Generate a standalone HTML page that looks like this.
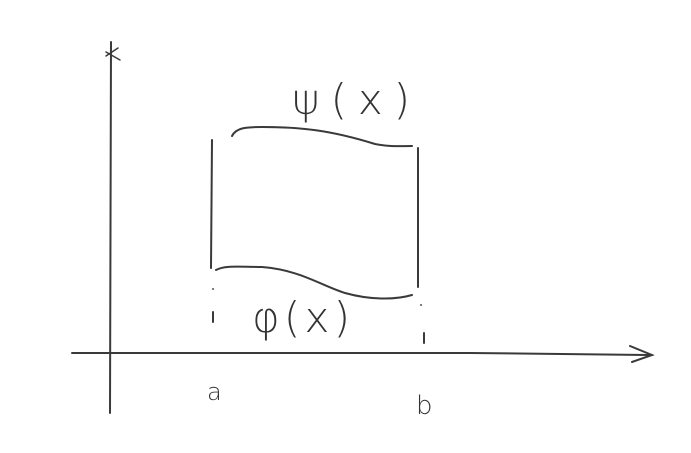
<!DOCTYPE html>
<html><head><meta charset="utf-8"><style>
html,body{margin:0;padding:0;background:#fff;width:691px;height:453px;overflow:hidden}
text{font-family:"DejaVu Sans","Liberation Sans",sans-serif;fill:#333;font-weight:200}
</style></head><body>
<svg width="691" height="453" viewBox="0 0 691 453">
<g stroke="#3a3a3a" stroke-width="2" fill="none" stroke-linecap="round">
<path d="M111 42 L110 413"/>
<path d="M72 353 L470 353 L652 355"/>
<path d="M630 346 L652 355 L632 362"/>
<path d="M212 140 L211 268"/>
<path d="M418 148 L418 287"/>
<path d="M232 136 C236 128 245 127 262 127 C300 127 330 130 375 144 C390 147 400 146 412 146"/>
<path d="M216 270 C225 265 240 267 262 267 C300 270 320 285 345 293 C370 300 395 300 412 295"/>
<path d="M213 312 L213 322"/>
<path d="M424 333 L424 343"/>
<path d="M106 52 L120 60 M106 56 L118 48" stroke-width="1.5"/>
</g>
<circle cx="213" cy="289" r="1" fill="#555"/>
<circle cx="421" cy="305" r="1" fill="#555"/>
<text x="292" y="114" font-size="42" textLength="118" lengthAdjust="spacing">ψ(x)</text>
<text x="252" y="332" font-size="42" textLength="98" lengthAdjust="spacing">φ(x)</text>
<text x="207" y="400" font-size="24">a</text>
<text x="416" y="414" font-size="26">b</text>
</svg>
</body></html>
